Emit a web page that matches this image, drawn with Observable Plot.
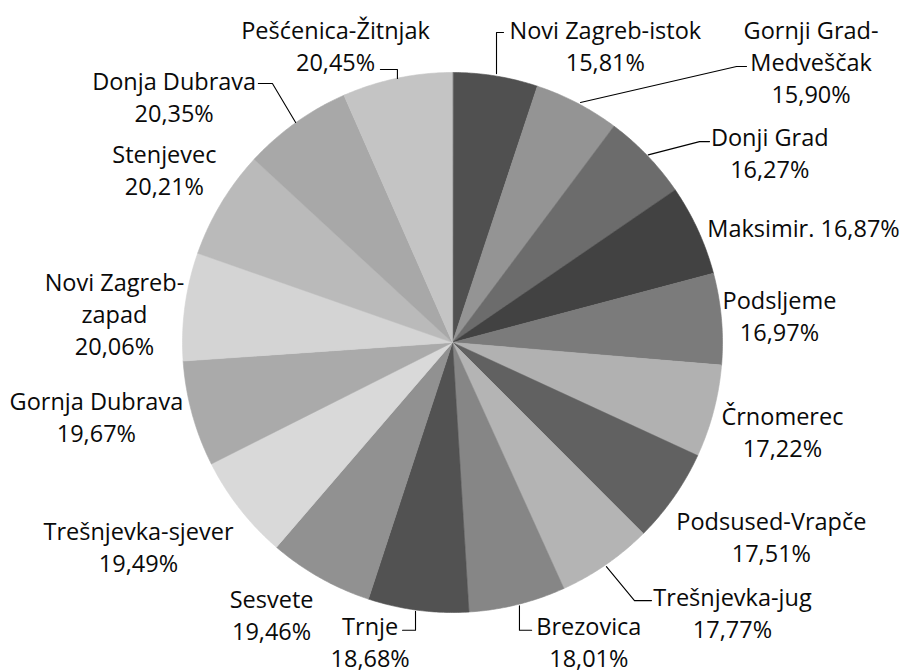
<!DOCTYPE html>
<html>
<head>
<meta charset="utf-8">
<script src="https://cdn.jsdelivr.net/npm/d3@7"></script>
<script src="https://cdn.jsdelivr.net/npm/@observablehq/plot@0.6"></script>
<style>
  html, body { margin: 0; padding: 0; background: #ffffff; }
  #chart { width: 903px; height: 672px; }
</style>
</head>
<body>
<div id="chart"></div>
<script>
// ---- Data (clockwise from 12 o'clock) ----
const districts = [
  "Novi Zagreb-istok", "Gornji Grad-Medveščak", "Donji Grad", "Maksimir",
  "Podsljeme", "Črnomerec", "Podsused-Vrapče", "Trešnjevka-jug", "Brezovica",
  "Trnje", "Sesvete", "Trešnjevka-sjever", "Gornja Dubrava", "Novi Zagreb-zapad",
  "Stenjevec", "Donja Dubrava", "Pešćenica-Žitnjak"
];
const values = [
  15.81, 15.90, 16.27, 16.87, 16.97, 17.22, 17.51, 17.77, 18.01,
  18.68, 19.46, 19.49, 19.67, 20.06, 20.21, 20.35, 20.45
];
// label text as printed on the chart (line breaks as in the original)
const labelNames = [
  "Novi Zagreb-istok", "Gornji Grad-\nMedveščak", "Donji Grad", "Maksimir.",
  "Podsljeme", "Črnomerec", "Podsused-Vrapče", "Trešnjevka-jug", "Brezovica",
  "Trnje", "Sesvete", "Trešnjevka-sjever", "Gornja Dubrava", "Novi Zagreb-\nzapad",
  "Stenjevec", "Donja Dubrava", "Pešćenica-Žitnjak"
];
const singleLineLabels = ["Maksimir"];
const sliceColors = [
  "#505050", "#949494", "#6c6c6c", "#424242", "#7b7b7b", "#b1b1b1",
  "#616161", "#b4b4b4", "#868686", "#525252", "#919191", "#d9d9d9",
  "#aaaaaa", "#d4d4d4", "#bababa", "#a8a8a8", "#c4c4c4"
];

// ---- Layout (in units of the pie radius, relative to the pie centre) ----
const labelLayout = [
  [0.566, -1.104], [1.328, -1.044], [1.175, -0.707], [1.300, -0.430],
  [1.211, -0.104], [1.222, 0.326], [1.181, 0.715], [1.037, 0.996],
  [0.505, 1.104], [-0.305, 1.104], [-0.670, 1.006], [-1.163, 0.752],
  [-1.319, 0.270], [-1.252, -0.111], [-1.067, -0.643], [-1.031, -0.915],
  [-0.433, -1.104]
];
const leaderLayout = [
  [[0.189, -1.148], [0.163, -1.148], [0.163, -0.996]],
  [[1.089, -1.022], [1.052, -1.022], [0.474, -0.889]],
  [[0.952, -0.744], [0.915, -0.744], [0.725, -0.695]],
  [[0.570, 0.830], [0.674, 0.956], [0.737, 0.956]],
  [[0.248, 0.975], [0.248, 1.066], [0.293, 1.066]],
  [[-0.185, 1.066], [-0.137, 1.066], [-0.137, 0.996]],
  [[-0.719, -0.959], [-0.667, -0.959], [-0.581, -0.815]],
  [[-0.267, -1.011], [-0.204, -1.011], [-0.204, -0.978]]
];

// ---- Build geometry ----
const fmt = v => v.toFixed(2).replace(".", ",") + "%";
const arcs = d3.pie().sort(null).value(d => d)(values);

function slicePolygon(a0, a1) {
  const pts = [[0, 0]];
  const n = Math.max(2, Math.ceil((a1 - a0) / (Math.PI / 360)));
  for (let i = 0; i <= n; i++) {
    const a = a0 + (a1 - a0) * i / n;
    pts.push([Math.sin(a), -Math.cos(a)]);
  }
  pts.push([0, 0]);
  return pts;
}

const slices = {
  type: "FeatureCollection",
  features: arcs.map((a, i) => ({
    type: "Feature",
    properties: { name: districts[i], value: values[i], color: sliceColors[i] },
    geometry: { type: "Polygon", coordinates: [slicePolygon(a.startAngle, a.endAngle)] }
  }))
};

const leaders = {
  type: "FeatureCollection",
  features: leaderLayout.map(c => ({ type: "Feature", properties: {}, geometry: { type: "LineString", coordinates: c } }))
};

const labels = districts.map((d, i) => ({
  u: labelLayout[i][0],
  v: labelLayout[i][1],
  text: labelNames[i] + (singleLineLabels.includes(d) ? " " : "\n") + fmt(values[i])
}));

const chart = Plot.plot({
  width: 903,
  height: 672,
  marginLeft: 182,
  marginRight: 181,
  marginTop: 72,
  marginBottom: 60,
  projection: {
    type: "identity",
    domain: { type: "MultiPoint", coordinates: [[-1, -1], [1, 1]] },
    clip: false
  },
  color: { type: "identity" },
  style: { fontFamily: "'Open Sans', sans-serif", background: "#ffffff", overflow: "visible" },
  marks: [
    Plot.geo(slices, {
      fill: d => d.properties.color,
      stroke: d => d.properties.color,
      strokeWidth: 0.6
    }),
    Plot.geo(leaders, { stroke: "#000000", strokeWidth: 1.1, fill: "none" }),
    Plot.text(labels, {
      x: "u",
      y: "v",
      text: "text",
      fontSize: 23.5,
      lineHeight: 1.36,
      fill: "#0a0a0a",
      textAnchor: "middle",
      lineAnchor: "middle",
      fontFamily: "'Open Sans', sans-serif"
    })
  ]
});

document.getElementById("chart").appendChild(chart);
</script>
</body>
</html>
